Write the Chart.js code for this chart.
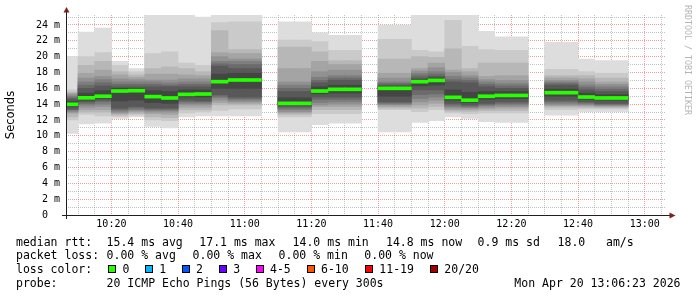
<!DOCTYPE html>
<html><head><meta charset="utf-8">
<script src="https://cdn.jsdelivr.net/npm/chart.js@4.4.1/dist/chart.umd.min.js"></script>
<style>html,body{margin:0;padding:0;background:#fff;}canvas{display:block;}</style>
</head><body>
<canvas id="c" width="697" height="297"></canvas>
<script>
// ---------- data ----------
const rangeStart = '10:06:23';
const rangeEnd = '13:06:23';
const yMax = 25.26;
const slotEnds = ['10:10','10:15','10:20','10:25','10:30','10:35','10:40','10:45','10:50','10:55','11:00','11:05',
  '11:10','11:15','11:20','11:25','11:30','11:35','11:40','11:45','11:50','11:55','12:00','12:05','12:10','12:15',
  '12:20','12:25','12:30','12:35','12:40','12:45','12:50','12:55'];
// 20 pings per slot, sorted (ping01 = fastest ... ping20 = slowest), milliseconds
const ping01 = [10.3,11.5,11.6,12.2,12.4,11.2,11.0,12.4,12.5,12.5,12.5,12.5, null, 10.5,10.5,11.4,11.6,11.6, null, 10.5,10.5,11.7,11.9,12.4,12.2,11.8,11.7,11.7, null, 12.6,12.6,13.05,13.05,13.05];
const ping02 = [12.0,12.7,12.5,12.45,12.6,12.0,11.9,12.9,13.0,13.2,13.4,13.4, null, 12.4,12.4,12.8,12.8,12.8, null, 13.3,13.3,13.05,13.3,12.9,12.8,12.9,12.9,12.9, null, 13.3,13.3,13.4,13.4,13.4];
const ping03 = [12.4,13.0,13.0,12.6,12.8,12.4,12.3,13.3,13.3,13.9,13.9,13.9, null, 12.7,12.7,13.3,13.3,13.3, null, 13.5,13.5,13.5,13.7,13.1,13.1,13.2,13.2,13.2, null, 13.6,13.6,13.6,13.55,13.55];
const ping04 = [12.85,13.3,13.3,12.8,13.0,12.8,12.7,13.6,13.6,14.2,14.1,14.1, null, 12.9,12.9,13.7,13.7,13.7, null, 13.7,13.7,13.9,14.1,13.3,13.3,13.4,13.5,13.5, null, 13.8,13.8,13.75,13.7,13.7];
const ping05 = [13.0,13.6,13.7,12.95,13.15,13.0,13.0,13.9,13.9,14.5,14.3,14.3, null, 13.05,13.05,13.9,14.0,14.0, null, 13.9,13.9,14.3,14.5,13.5,13.5,13.6,13.7,13.7, null, 13.9,13.9,13.9,13.8,13.8];
const ping06 = [13.15,13.9,14.0,13.1,13.3,13.2,13.2,14.1,14.1,14.8,14.5,14.5, null, 13.3,13.3,14.2,14.3,14.3, null, 14.0,14.0,14.7,14.9,13.7,13.6,13.8,13.9,13.9, null, 14.1,14.1,14.0,13.9,13.9];
const ping07 = [13.3,14.1,14.3,13.3,13.5,13.35,13.35,14.3,14.3,15.0,14.7,14.7, null, 13.5,13.5,14.6,14.6,14.6, null, 14.15,14.15,15.2,15.3,13.9,13.75,13.95,14.1,14.1, null, 14.3,14.3,14.15,14.0,14.0];
const ping08 = [13.4,14.3,14.5,13.5,13.7,13.5,13.5,14.5,14.4,15.2,14.9,14.9, null, 13.7,13.7,14.9,14.9,14.9, null, 14.3,14.3,15.8,15.8,14.1,13.9,14.1,14.3,14.3, null, 14.5,14.5,14.3,14.1,14.1];
const ping09 = [13.7,14.5,14.7,14.4,14.5,14.2,14.1,14.9,14.9,16.0,16.0,16.0, null, 13.9,13.9,15.3,15.4,15.4, null, 15.0,15.0,16.3,16.4,14.5,14.2,14.6,14.7,14.7, null, 15.0,15.0,14.6,14.5,14.5];
const ping10 = [13.9,14.7,14.9,15.5,15.55,14.8,14.65,15.1,15.15,16.7,16.9,16.9, null, 14.0,14.0,15.6,15.8,15.8, null, 15.9,15.9,16.75,16.9,14.75,14.4,14.9,15.0,15.0, null, 15.35,15.35,14.8,14.7,14.7];
const ping11 = [14.1,14.9,15.1,15.8,15.85,15.1,14.9,15.4,15.4,17.0,17.2,17.2, null, 14.2,14.2,15.8,15.95,15.95, null, 16.1,16.1,16.95,17.1,14.95,14.6,15.1,15.2,15.2, null, 15.55,15.55,15.0,14.85,14.85];
const ping12 = [14.35,15.4,15.7,16.0,16.0,15.7,15.6,15.8,15.8,17.8,17.9,17.9, null, 14.8,14.8,16.2,16.4,16.4, null, 16.25,16.25,17.1,17.3,15.8,15.5,15.6,15.6,15.6, null, 15.9,15.9,15.4,15.2,15.2];
const ping13 = [14.65,16.0,16.3,16.2,16.2,16.2,16.2,16.2,16.2,18.8,18.5,18.5, null, 15.6,15.6,16.7,17.0,17.0, null, 16.4,16.4,17.3,17.5,16.8,16.7,16.2,16.0,16.0, null, 16.4,16.4,15.8,15.6,15.6];
const ping14 = [14.8,16.4,16.7,16.5,16.5,16.5,16.4,16.5,16.5,19.1,19.0,19.0, null, 16.0,16.0,17.0,17.3,17.3, null, 16.6,16.6,17.6,17.8,17.1,17.0,16.5,16.3,16.3, null, 16.6,16.6,16.1,15.9,15.9];
const ping15 = [15.0,16.8,17.1,16.8,16.8,16.8,16.7,16.8,16.8,19.4,19.4,19.4, null, 16.4,16.4,17.4,17.6,17.6, null, 16.8,16.8,17.9,18.1,17.5,17.3,16.8,16.6,16.6, null, 16.8,16.8,16.4,16.2,16.2];
const ping16 = [15.2,17.3,17.5,17.2,17.1,17.05,17.05,17.2,17.2,20.0,19.7,19.7, null, 16.8,16.8,18.1,18.3,18.3, null, 17.3,17.3,18.2,18.6,18.0,17.6,17.1,17.0,17.0, null, 17.0,17.0,16.8,16.5,16.5];
const ping17 = [15.35,17.9,18.3,17.7,17.4,17.8,17.8,17.7,17.6,20.5,20.4,20.4, null, 18.5,18.5,19.4,19.0,19.0, null, 17.9,17.9,18.5,19.2,18.3,18.1,17.5,17.6,17.6, null, 17.3,17.3,17.2,16.8,16.8];
const ping18 = [15.5,18.9,19.4,18.1,17.7,18.5,18.7,18.5,18.1,23.3,20.9,20.9, null, 21.2,21.2,20.6,19.5,19.5, null, 19.7,19.7,20.0,19.9,21.0,18.5,19.2,19.2,19.2, null, 17.6,17.6,17.6,17.3,17.3];
const ping19 = [15.8,20.0,20.5,18.9,18.1,20.4,20.6,19.2,18.9,24.3,24.4,24.4, null, 22.1,22.1,21.9,20.8,20.8, null, 22.2,22.2,20.8,20.6,24.6,21.3,20.9,20.8,20.8, null, 18.4,18.4,18.1,17.9,17.9];
const ping20 = [20.0,23.1,23.6,19.4,18.5,25.5,25.5,25.5,25.0,25.5,25.5,25.5, null, 24.4,24.4,23.0,22.7,22.7, null, 24.0,24.0,25.5,25.5,25.5,25.5,23.2,22.5,22.5, null, 21.8,21.8,19.7,19.5,19.5];
const medianRtt = [13.98,14.8,15.0,15.66,15.7,14.95,14.78,15.24,15.28,16.84,17.05,17.05, null, 14.1,14.1,15.66,15.87,15.87, null, 16.0,16.0,16.84,17.0,14.86,14.5,15.0,15.1,15.1, null, 15.45,15.45,14.9,14.78,14.78];

const xTickLabels = ['10:20','10:40','11:00','11:20','11:40','12:00','12:20','12:40','13:00'];
const yTickLabels = ['0  ','2 m','4 m','6 m','8 m','10 m','12 m','14 m','16 m','18 m','20 m','22 m','24 m'];
const axisTitle = 'Seconds';
const statsMedian = ['median rtt:','15.4 ms avg','17.1 ms max','14.0 ms min','14.8 ms now','0.9 ms sd','18.0','am/s'];
const statsLoss = ['packet loss:','0.00 % avg','0.00 % max','0.00 % min','0.00 % now'];
const lossTitle = 'loss color:';
const lossLabels = ['0','1','2','3','4-5','6-10','11-19','20/20'];
const lossColors = ['#26ff00','#00b8ff','#0059ff','#6a00ff','#ff00ff','#ff5500','#ff0000','#a00000'];
const probeText = ['probe:','20 ICMP Echo Pings (56 Bytes) every 300s'];
const stampText = 'Mon Apr 20 13:06:23 2026';
const creditText = 'RRDTOOL / TOBI OETIKER';

// ---------- styling / layout ----------
const MONO = '"DejaVu Sans Mono", monospace';
const MAJOR = 'rgba(222,79,79,0.55)';
const MINOR = 'rgba(143,143,143,0.55)';
const AXIS = '#1f1f1f';
const ARROW = '#801f1f';
const MEDIAN_HALF = 0.19;
const line1X = [16, 106.6, 199.3, 292.6, 386, 477.6, 557.6, 606];
const line2X = [16, 106.6, 192.6, 278.6, 364.3];
const boxX = [108.5, 145.5, 182.5, 219.5, 256.5, 307.5, 365.5, 430.5];
const boxLabelX = [122.6, 159.3, 196, 233.3, 270, 321, 379.3, 444.3];
const baselines = [245.5, 259.3, 273.3, 287.3];

function toMin(s){const p=s.split(':').map(Number);return p[0]*60+p[1]+(p[2]||0)/60;}
const pings = [ping01,ping02,ping03,ping04,ping05,ping06,ping07,ping08,ping09,ping10,
               ping11,ping12,ping13,ping14,ping15,ping16,ping17,ping18,ping19,ping20];
const centers = slotEnds.map(s => toMin(s) - 2.5);
const xTickMins = xTickLabels.map(toMin);

const datasets = [];
for (let i = 0; i < 10; i++) {
  const lo = pings[i], hi = pings[19 - i];
  const g = Math.floor(190 / 10 * (10 - (i + 1))) + 50;
  datasets.push({
    label: 'smoke' + (i + 1),
    data: centers.map((x, j) => lo[j] == null ? null : {x: x, y: [lo[j], hi[j]]}).filter(Boolean),
    backgroundColor: 'rgb(' + g + ',' + g + ',' + g + ')',
    order: 20 - i
  });
}
datasets.push({
  label: 'median rtt',
  data: centers.map((x, j) => medianRtt[j] == null ? null : {x: x, y: [medianRtt[j] - MEDIAN_HALF, medianRtt[j] + MEDIAN_HALF]}).filter(Boolean),
  backgroundColor: lossColors[0],
  order: 0
});

const decor = {
  id: 'rrdDecor',
  afterDraw(chart) {
    const ctx = chart.ctx, a = chart.chartArea;
    ctx.save();
    ctx.strokeStyle = AXIS; ctx.lineWidth = 1;
    ctx.beginPath(); ctx.moveTo(a.left - 4, a.bottom + 0.5); ctx.lineTo(a.right + 4, a.bottom + 0.5); ctx.stroke();
    ctx.beginPath(); ctx.moveTo(a.left + 0.5, a.bottom + 4); ctx.lineTo(a.left + 0.5, a.top - 4); ctx.stroke();
    ctx.fillStyle = ARROW;
    ctx.beginPath(); ctx.moveTo(a.right + 3.5, a.bottom - 2.5); ctx.lineTo(a.right + 9.5, a.bottom + 0.5); ctx.lineTo(a.right + 3.5, a.bottom + 3.5); ctx.closePath(); ctx.fill();
    ctx.beginPath(); ctx.moveTo(a.left - 2.5, a.top - 2.5); ctx.lineTo(a.left + 0.5, a.top - 8); ctx.lineTo(a.left + 3.5, a.top - 2.5); ctx.closePath(); ctx.fill();
    ctx.fillStyle = '#000';
    ctx.font = '11.5px ' + MONO;
    ctx.textBaseline = 'alphabetic'; ctx.textAlign = 'left';
    statsMedian.forEach((t, k) => ctx.fillText(t, line1X[k], baselines[0]));
    statsLoss.forEach((t, k) => ctx.fillText(t, line2X[k], baselines[1]));
    ctx.fillText(lossTitle, line1X[0], baselines[2]);
    lossLabels.forEach((t, k) => {
      ctx.fillStyle = lossColors[k];
      ctx.fillRect(boxX[k], baselines[2] - 7.8, 7, 7);
      ctx.strokeStyle = '#000';
      ctx.strokeRect(boxX[k], baselines[2] - 7.8, 7, 7);
      ctx.fillStyle = '#000';
      ctx.fillText(t, boxLabelX[k], baselines[2]);
    });
    ctx.fillText(probeText[0], line1X[0], baselines[3]);
    ctx.fillText(probeText[1], line1X[1], baselines[3]);
    ctx.textAlign = 'right';
    ctx.fillText(stampText, 680.5, baselines[3]);
    ctx.translate(687.5, 5);
    ctx.rotate(Math.PI / 2);
    ctx.textAlign = 'left'; ctx.textBaseline = 'middle';
    ctx.font = '8.3px ' + MONO;
    ctx.fillStyle = '#b4b4b4';
    ctx.fillText(creditText, 0, 0);
    ctx.restore();
  }
};

Chart.defaults.font.family = MONO;
new Chart(document.getElementById('c'), {
  type: 'bar',
  data: {datasets: datasets},
  plugins: [decor],
  options: {
    responsive: false, animation: false, devicePixelRatio: 1,
    layout: {padding: {left: 0, top: 15, right: 31, bottom: 0}},
    plugins: {legend: {display: false}, tooltip: {enabled: false}},
    datasets: {bar: {grouped: false, barPercentage: 1, categoryPercentage: 1, borderWidth: 0, clip: 0}},
    scales: {
      x: {
        type: 'linear', offset: false, min: toMin(rangeStart), max: toMin(rangeEnd), z: 1,
        afterBuildTicks: s => {
          const t = [];
          for (let v = Math.ceil(s.min / 5) * 5; v <= s.max; v += 5) t.push({value: v});
          s.ticks = t;
        },
        afterFit: s => { s.height = 82; },
        ticks: {autoSkip: false, maxRotation: 0, minRotation: 0, padding: 3, color: '#000',
          font: {family: MONO, size: 10},
          callback: v => { const k = xTickMins.indexOf(v); return k >= 0 ? xTickLabels[k] : ''; }},
        grid: {offset: false, drawTicks: false, lineWidth: 1,
          color: c => (c.tick && c.tick.value % 20 === 0) ? MAJOR : MINOR},
        border: {display: false, dash: [1, 1]}
      },
      y: {
        min: 0, max: yMax, z: 1,
        afterBuildTicks: s => {
          const t = [];
          for (let v = 0; v <= s.max; v += 1) t.push({value: v});
          s.ticks = t;
        },
        afterFit: s => { s.width = 66; },
        ticks: {autoSkip: false, padding: 6, color: '#000', font: {family: MONO, size: 10},
          callback: v => v % 2 === 0 ? yTickLabels[v / 2] : ''},
        grid: {drawTicks: false, lineWidth: 1,
          color: c => (c.tick && c.tick.value % 2 === 0) ? MAJOR : MINOR},
        border: {display: false, dash: [1, 1]},
        title: {display: true, text: axisTitle, color: '#000',
          font: {family: '"DejaVu Sans", sans-serif', size: 11.5}, padding: {top: 4, bottom: 0}}
      }
    }
  }
});
</script>
</body></html>
